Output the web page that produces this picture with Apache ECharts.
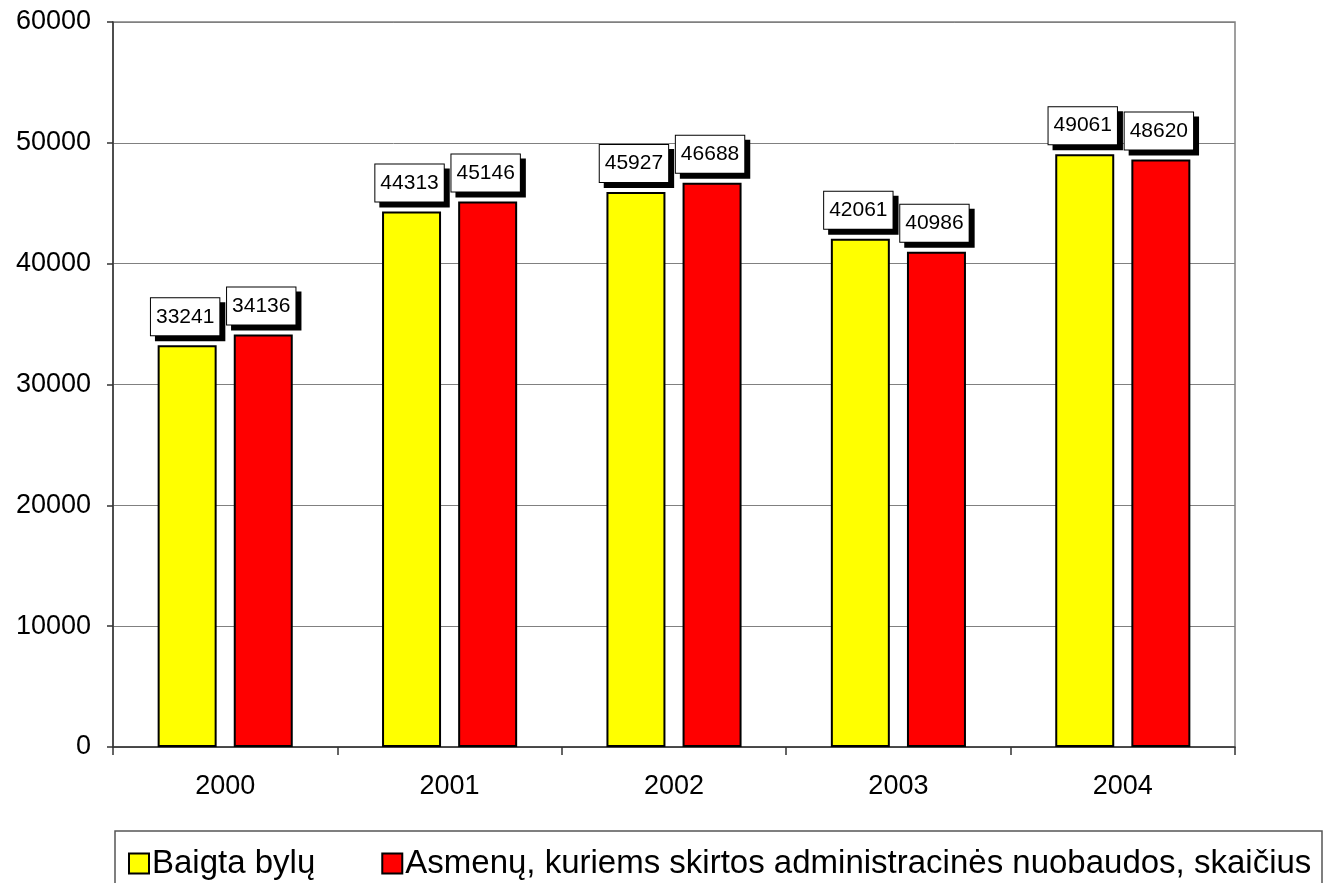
<!DOCTYPE html>
<html>
<head>
<meta charset="utf-8">
<script src="https://cdn.jsdelivr.net/npm/echarts@6/dist/echarts.min.js"></script>
<style>
  html, body { margin: 0; padding: 0; background: #fff; }
  #chart { width: 1332px; height: 883px; }
</style>
</head>
<body>
<div id="chart"></div>
<script>
const years = ['2000', '2001', '2002', '2003', '2004']
const baigta = [33241, 44313, 45927, 42061, 49061]
const asmenu = [34136, 45146, 46688, 40986, 48620]
const seriesNames = ['Baigta bylų', 'Asmenų, kuriems skirtos administracinės nuobaudos, skaičius']

const font = 'Arial, "Liberation Sans", sans-serif'

// label box with hard black shadow
const boxLabel = {
  show: true,
  position: 'top',
  distance: 10,
  offset: [-2, 0],
  color: '#000',
  fontFamily: font,
  fontSize: 21,
  backgroundColor: '#fff',
  borderColor: '#000',
  borderWidth: 1,
  padding: [8, 5, 8, 5],
  shadowColor: '#000',
  shadowBlur: 0,
  shadowOffsetX: 5,
  shadowOffsetY: 5
}

const chart = echarts.init(document.getElementById('chart'))
chart.setOption({
  animation: false,
  backgroundColor: '#fff',
  textStyle: { fontFamily: font },
  grid: {
    left: 113, right: 97, top: 22, bottom: 136,
    show: true, borderColor: '#808080', borderWidth: 1.5, backgroundColor: 'transparent'
  },
  legend: {
    left: 123, top: 842,
    itemWidth: 20, itemHeight: 20, itemGap: 66,
    icon: 'rect',
    textStyle: { fontSize: 33, color: '#000', fontFamily: font, padding: [0, 0, 0, -2] },
    data: seriesNames
  },
  graphic: [{
    type: 'rect',
    shape: { x: 115, y: 831, width: 1207, height: 80 },
    style: { fill: 'none', stroke: '#555', lineWidth: 1.5 },
    z: -1
  }],
  xAxis: {
    type: 'category',
    data: years,
    axisLine: { lineStyle: { color: '#333', width: 1.5 } },
    axisTick: { show: true, length: 8, lineStyle: { color: '#333', width: 1.5 } },
    axisLabel: { color: '#000', fontSize: 27, margin: 26, fontFamily: font }
  },
  yAxis: {
    type: 'value',
    min: 0, max: 60000, interval: 10000,
    axisLine: { show: true, lineStyle: { color: '#333', width: 1.5 } },
    axisTick: { show: true, length: 6, lineStyle: { color: '#333', width: 1.5 } },
    axisLabel: { color: '#000', fontSize: 27, margin: 22, fontFamily: font, formatter: v => String(v) },
    splitLine: { lineStyle: { color: '#808080', width: 1 } }
  },
  series: [
    {
      name: seriesNames[0],
      type: 'bar',
      data: baigta,
      barWidth: 59,
      barGap: '29%',
      itemStyle: { color: '#ffff00', borderColor: '#000', borderWidth: 2 },
      label: boxLabel
    },
    {
      name: seriesNames[1],
      type: 'bar',
      data: asmenu,
      barWidth: 59,
      barGap: '29%',
      itemStyle: { color: '#ff0000', borderColor: '#000', borderWidth: 2 },
      label: boxLabel
    }
  ]
})
</script>
</body>
</html>
